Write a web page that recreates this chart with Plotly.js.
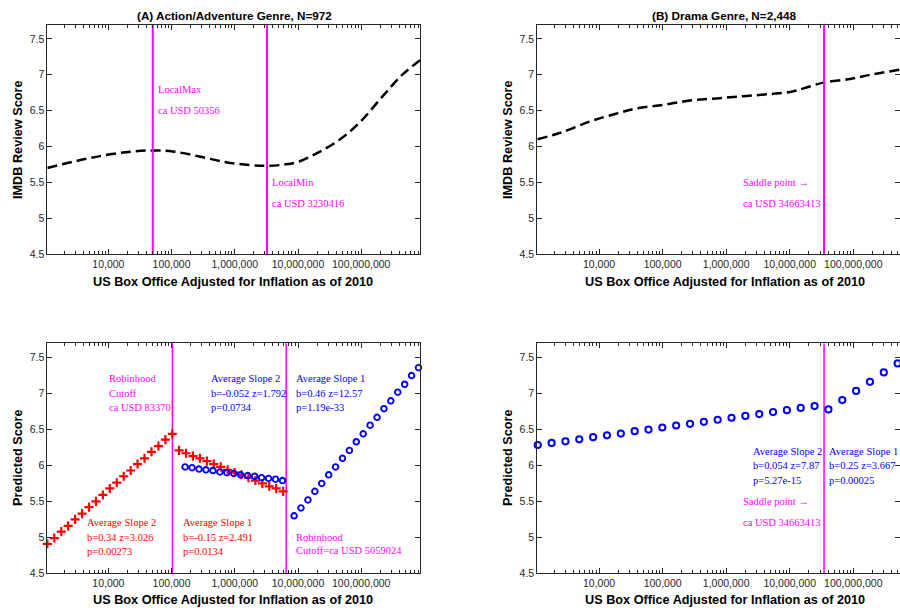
<!DOCTYPE html>
<html>
<head>
<meta charset="utf-8">
<script src="https://cdn.plot.ly/plotly-3.0.1.min.js"></script>
<style>html,body{margin:0;padding:0;background:#fff;}#chart{width:900px;height:608px;}</style>
</head>
<body>
<div id="chart"></div>
<script>
// ---------- DATA ----------
const tickVals = [1e4, 1e5, 1e6, 1e7, 1e8];
const tickText = ['10,000', '100,000', '1,000,000', '10,000,000', '100,000,000'];

// (A) top: fitted IMDB score curve, Action/Adventure
const topLeftX = [1084, 4074, 10720, 24550, 50120, 104700, 275400, 724400, 1698000, 3236000, 6457000, 10470000, 21380000, 44670000, 91200000, 213800000, 446700000, 851100000];
const topLeftY = [5.70, 5.82, 5.89, 5.93, 5.945, 5.93, 5.86, 5.78, 5.74, 5.73, 5.75, 5.79, 5.92, 6.09, 6.32, 6.69, 7.00, 7.20];
const topLeftCuts = [50356, 3230416];

// (B) top: fitted IMDB score curve, Drama
const topRightX = [1072, 2455, 7244, 19050, 38900, 102300, 269200, 707900, 1862000, 4898000, 10230000, 16600000, 33880000, 89130000, 186200000, 543300000];
const topRightY = [6.10, 6.19, 6.35, 6.46, 6.53, 6.58, 6.64, 6.67, 6.70, 6.73, 6.76, 6.81, 6.89, 6.94, 7.00, 7.07];
const saddleCut = [34663413];

// (A) bottom: predicted scores
const redSeg1X = [1084, 1396, 1799, 2312, 2979, 3837, 4943, 6368, 8185, 10540, 13580, 17500, 22540, 28970, 37330, 48080, 61940, 79800, 102600];
const redSeg1Y = [4.91, 4.99, 5.08, 5.16, 5.25, 5.33, 5.42, 5.50, 5.59, 5.68, 5.76, 5.85, 5.93, 6.02, 6.10, 6.19, 6.27, 6.36, 6.44];
const redSeg2X = [131500, 169400, 217800, 280500, 361400, 464500, 598400, 770900, 993100, 1276000, 1644000, 2118000, 2729000, 3508000, 4519000, 5821000];
const redSeg2Y = [6.21, 6.17, 6.13, 6.10, 6.06, 6.02, 5.98, 5.94, 5.90, 5.87, 5.83, 5.79, 5.75, 5.71, 5.68, 5.64];
const blueSeg1X = [163700, 210900, 271600, 349900, 450800, 580800, 748200, 963800, 1242000, 1600000, 2061000, 2655000, 3420000, 4406000, 5675000];
const blueSeg1Y = [5.98, 5.97, 5.95, 5.94, 5.93, 5.91, 5.90, 5.89, 5.87, 5.86, 5.85, 5.83, 5.82, 5.81, 5.79];
const blueSeg2X = [8670000, 11140000, 14350000, 18450000, 23710000, 30550000, 39260000, 50470000, 64860000, 83560000, 107400000, 138000000, 177800000, 228600000, 293800000, 378400000, 486400000, 625200000, 803500000];
const blueSeg2Y = [5.30, 5.41, 5.52, 5.64, 5.75, 5.87, 5.98, 6.10, 6.21, 6.33, 6.44, 6.56, 6.67, 6.79, 6.90, 7.02, 7.13, 7.25, 7.36];
const bottomLeftCuts = [103000, 6500000];

// (B) bottom: predicted scores
const dramaPredX = [1084, 1791, 2958, 4875, 8054, 13300, 21980, 36310, 59840, 98860, 163300, 269800, 445700, 734500, 1213000, 2004000, 3311000, 5470000, 9016000, 14890000, 24600000, 40640000, 67140000, 110700000, 182800000, 302000000, 498900000];
const dramaPredY = [6.285, 6.313, 6.336, 6.364, 6.393, 6.42, 6.444, 6.477, 6.50, 6.528, 6.556, 6.579, 6.607, 6.636, 6.664, 6.69, 6.715, 6.743, 6.77, 6.80, 6.827, 6.78, 6.91, 7.037, 7.164, 7.294, 7.42];

// ---------- STYLE ----------
const SANS = 'Liberation Sans, Arial, sans-serif';
const SERIF = 'Liberation Serif, Times New Roman, serif';
const AX = '#262626';
const MAG = '#ff00ff', BLUE = '#0000ff', RED = '#ff0000';
const YR = [4.5, 7.7];
const leftRange = [3.035, 8.93];
const rightRange = [3.028, 8.735];
const xDomL = [0.0526, 0.4667], xDomR = [0.597, 1.0];
const yDomT = [0.5822, 0.9597], yDomB = [0.0571, 0.4354];

function xAxis(range, domain, anchor) {
  return {
    type: 'log', range: range, domain: domain, anchor: anchor,
    tickmode: 'array', tickvals: tickVals, ticktext: tickText,
    ticks: 'inside', ticklen: 5, tickwidth: 1, tickcolor: AX,
    showline: true, linecolor: AX, linewidth: 1, mirror: 'allticks',
    showgrid: false, zeroline: false,
    tickfont: {family: SANS, size: 10.5, color: AX},
    minor: {ticks: 'inside', ticklen: 3, tickwidth: 1, tickcolor: AX, dtick: 'D1', showgrid: false}
  };
}
function yAxis(domain, anchor) {
  return {
    range: YR, domain: domain, anchor: anchor,
    tick0: 4.5, dtick: 0.5,
    ticks: 'inside', ticklen: 5, tickwidth: 1, tickcolor: AX,
    showline: true, linecolor: AX, linewidth: 1, mirror: 'allticks',
    showgrid: false, zeroline: false,
    tickfont: {family: SANS, size: 10.5, color: AX}
  };
}

const traces = [];
function vline(xv, xa, ya, w) {
  traces.push({x: [xv, xv], y: YR, xaxis: xa, yaxis: ya, mode: 'lines',
    line: {color: MAG, width: w}, hoverinfo: 'skip', showlegend: false});
}
// top-left
traces.push({x: topLeftX, y: topLeftY, xaxis: 'x', yaxis: 'y', mode: 'lines',
  line: {color: '#000', width: 2.5, dash: '10px,5px', shape: 'spline', smoothing: 1}, showlegend: false});
topLeftCuts.forEach(c => vline(c, 'x', 'y', 2));
// top-right
traces.push({x: topRightX, y: topRightY, xaxis: 'x2', yaxis: 'y2', mode: 'lines',
  line: {color: '#000', width: 2.5, dash: '10px,5px', shape: 'spline', smoothing: 1}, showlegend: false});
saddleCut.forEach(c => vline(c, 'x2', 'y2', 2));
// bottom-left
bottomLeftCuts.forEach(c => vline(c, 'x3', 'y3', 1.5));
const plusM = {symbol: 'cross-thin-open', size: 6.5, line: {color: RED, width: 2.2}, color: RED};
const circM = {symbol: 'circle-open', size: 5.6, line: {color: BLUE, width: 1.9}, color: BLUE};
traces.push({x: redSeg1X, y: redSeg1Y, xaxis: 'x3', yaxis: 'y3', mode: 'markers', marker: plusM, showlegend: false, cliponaxis: false});
traces.push({x: redSeg2X, y: redSeg2Y, xaxis: 'x3', yaxis: 'y3', mode: 'markers', marker: plusM, showlegend: false, cliponaxis: false});
traces.push({x: blueSeg1X, y: blueSeg1Y, xaxis: 'x3', yaxis: 'y3', mode: 'markers', marker: circM, showlegend: false, cliponaxis: false});
traces.push({x: blueSeg2X, y: blueSeg2Y, xaxis: 'x3', yaxis: 'y3', mode: 'markers', marker: circM, showlegend: false, cliponaxis: false});
// bottom-right
saddleCut.forEach(c => vline(c, 'x4', 'y4', 1.5));
traces.push({x: dramaPredX, y: dramaPredY, xaxis: 'x4', yaxis: 'y4', mode: 'markers',
  marker: {symbol: 'circle-open', size: 6.2, line: {color: BLUE, width: 2}, color: BLUE}, showlegend: false, cliponaxis: false});

// ---------- TEXT ----------
const ann = [];
function txt(lines, xa, ya, xLog, yTop, dy, color) {
  lines.forEach((t, i) => ann.push({text: t, xref: xa, yref: ya, x: xLog, y: yTop - i * dy,
    xanchor: 'left', yanchor: 'middle', showarrow: false,
    font: {family: SERIF, size: 10.5, color: color}}));
}
// top-left
txt(['LocalMax'], 'x', 'y', 4.75, 6.80, 0, MAG);
txt(['ca USD 50356'], 'x', 'y', 4.75, 6.50, 0, MAG);
txt(['LocalMin'], 'x', 'y', 6.56, 5.50, 0, MAG);
txt(['ca USD 3230416'], 'x', 'y', 6.56, 5.21, 0, MAG);
// top-right
txt(['Saddle point \u2192'], 'x2', 'y2', 6.24, 5.50, 0, MAG);
txt(['ca USD 34663413'], 'x2', 'y2', 6.24, 5.21, 0, MAG);
// bottom-left
txt(['Robinhood', 'Cutoff', 'ca USD 83370'], 'x3', 'y3', 3.984, 7.21, 0.205, MAG);
txt(['Average Slope 2', 'b=-0.052 z=1.792', 'p=0.0734'], 'x3', 'y3', 5.593, 7.21, 0.205, BLUE);
txt(['Average Slope 1', 'b=0.46 z=12.57', 'p=1.19e-33'], 'x3', 'y3', 6.938, 7.21, 0.205, BLUE);
txt(['Average Slope 2', 'b=0.34 z=3.026', 'p=0.00273'], 'x3', 'y3', 3.631, 5.20, 0.20, RED);
txt(['Average Slope 1', 'b=-0.15 z=2.491', 'p=0.0134'], 'x3', 'y3', 5.150, 5.20, 0.20, RED);
txt(['Robinhood', 'Cutoff=ca USD 5059024'], 'x3', 'y3', 6.938, 5.0, 0.19, MAG);
// bottom-right
txt(['Average Slope 2', 'b=0.054 z=7.87', 'p=5.27e-15'], 'x4', 'y4', 6.394, 6.20, 0.205, BLUE);
txt(['Average Slope 1', 'b=0.25 z=3.667', 'p=0.00025'], 'x4', 'y4', 7.591, 6.20, 0.205, BLUE);
txt(['Saddle point \u2192'], 'x4', 'y4', 6.24, 5.495, 0, MAG);
txt(['ca USD 34663413'], 'x4', 'y4', 6.24, 5.20, 0, MAG);

// titles
function ptext(t, x, y, size, angle) {
  ann.push({text: '<b>' + t + '</b>', xref: 'paper', yref: 'paper', x: x / 900, y: 1 - y / 608,
    xanchor: 'center', yanchor: 'middle', showarrow: false, textangle: angle || 0,
    font: {family: SANS, size: size, color: '#000'}});
}
ptext('(A) Action/Adventure Genre, N=972', 234, 16, 11.7);
ptext('(B) Drama Genre, N=2,448', 723.7, 16, 11.7);
const XT = 'US Box Office Adjusted for Inflation as of 2010';
ptext(XT, 233.5, 281.7, 12.7);
ptext(XT, 724.7, 281.7, 12.7);
ptext(XT, 233.5, 600, 12.7);
ptext(XT, 724.7, 600, 12.7);
ptext('IMDB Review Score', 18, 140, 12.7, -90);
ptext('IMDB Review Score', 508, 140, 12.7, -90);
ptext('Predicted Score', 18, 458, 12.7, -90);
ptext('Predicted Score', 508, 458, 12.7, -90);

const layout = {
  width: 900, height: 608, margin: {l: 0, r: 0, t: 0, b: 0},
  paper_bgcolor: '#fff', plot_bgcolor: '#fff', showlegend: false,
  xaxis: xAxis(leftRange, xDomL, 'y'), yaxis: yAxis(yDomT, 'x'),
  xaxis2: xAxis(rightRange, xDomR, 'y2'), yaxis2: yAxis(yDomT, 'x2'),
  xaxis3: xAxis(leftRange, xDomL, 'y3'), yaxis3: yAxis(yDomB, 'x3'),
  xaxis4: xAxis(rightRange, xDomR, 'y4'), yaxis4: yAxis(yDomB, 'x4'),
  annotations: ann
};
Plotly.newPlot('chart', traces, layout, {staticPlot: true, displayModeBar: false});
</script>
</body>
</html>
